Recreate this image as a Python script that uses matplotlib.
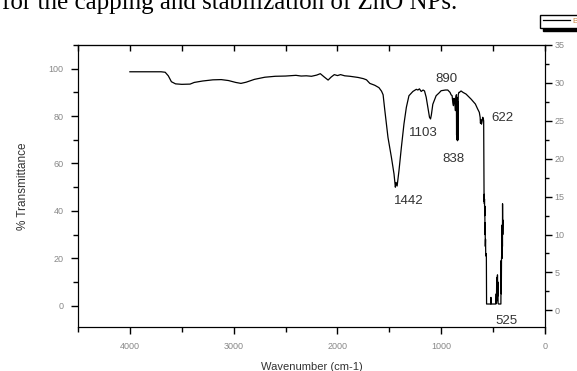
import matplotlib
matplotlib.use("Agg")
import matplotlib.pyplot as plt
from matplotlib.ticker import MultipleLocator

# FTIR spectrum
wavenumber = [4000, 3800, 3700, 3660, 3630, 3600, 3560, 3500, 3420, 3380, 3300, 3200,
              3120, 3050, 2980, 2930, 2880, 2800, 2700, 2600, 2500, 2400, 2350, 2300,
              2250, 2200, 2165, 2130, 2090, 2060, 2030, 2000, 1970, 1930, 1880, 1800,
              1750, 1720, 1688, 1640, 1600, 1575, 1560, 1545, 1513, 1480, 1455, 1442,
              1435, 1425, 1407, 1384, 1359, 1336, 1311, 1273, 1240, 1225, 1210, 1193,
              1175, 1161, 1145, 1130, 1113, 1103, 1095, 1081, 1049, 1020, 1001, 960,
              937, 915, 905, 895, 888, 882, 877, 870, 863, 858, 854, 852, 850, 848,
              846, 843, 841, 839, 836, 830, 825, 809, 790, 761, 713, 671, 649, 633,
              625, 622, 617, 612, 607, 600, 595, 591, 589, 588, 587, 586, 584, 583,
              581, 580, 578, 577, 575, 573, 571, 568, 565, 563, 540, 523, 521, 519,
              490, 473, 470, 468, 466, 464, 462, 460, 458, 456, 454, 452, 448, 440,
              432, 425, 423, 421, 419, 417, 415, 413, 411, 410, 409, 407, 405]
transmittance = [98.7, 98.7, 98.7, 98.5, 97.0, 94.5, 93.6, 93.4, 93.5, 94.2, 94.8, 95.3,
                 95.4, 95.0, 94.2, 93.8, 94.3, 95.5, 96.4, 96.8, 96.9, 97.2, 96.9, 97.0,
                 96.8, 97.3, 97.9, 96.6, 95.2, 96.5, 97.5, 97.1, 97.5, 97.0, 96.8, 96.3,
                 95.8, 95.3, 93.8, 93.0, 92.0, 90.5, 89.0, 83.0, 71.0, 62.6, 55.6, 50.0,
                 52.0, 50.5, 57.0, 66.8, 76.7, 83.7, 88.6, 90.4, 91.3, 91.0, 91.5, 90.4,
                 91.0, 90.6, 88.0, 84.0, 79.5, 78.8, 80.5, 85.0, 88.6, 89.8, 90.7, 91.0,
                 91.0, 90.0, 89.0, 88.6, 85.5, 84.4, 87.5, 86.0, 82.3, 88.0, 89.0, 72.0,
                 88.0, 70.0, 87.0, 69.6, 86.0, 70.0, 89.0, 90.0, 90.0, 90.6, 90.0, 89.3,
                 87.2, 85.1, 83.0, 81.6, 79.5, 77.0, 78.5, 76.6, 77.5, 79.5, 79.0, 78.0,
                 60.0, 48.0, 44.0, 47.0, 43.0, 45.0, 38.0, 42.0, 30.0, 35.0, 25.0, 28.0,
                 21.0, 22.0, 21.0, 0.7, 0.7, 0.7, 3.5, 0.7, 0.7, 0.7, 5.0, 1.0, 9.0, 2.0,
                 12.0, 3.0, 13.0, 4.0, 10.0, 1.0, 0.7, 0.7, 0.7, 0.7, 19.0, 5.0, 20.0,
                 22.0, 34.0, 20.0, 33.0, 25.0, 43.0, 30.0, 36.0]

peak_labels = ["1442", "1103", "890", "838", "622", "525"]
label_x = [1314, 1172, 950, 882, 412, 369]
label_y = [44.3, 73.0, 95.8, 62.0, 79.2, -6.3]

fig = plt.figure(figsize=(5.77, 3.71), dpi=100)
ax = fig.add_axes([78 / 577, 44 / 371, 467 / 577, 282 / 371])

ax.plot(wavenumber, transmittance, color="black", lw=0.9, label="B")

for t, x, y in zip(peak_labels, label_x, label_y):
    ax.text(x, y, t, ha="center", va="center", fontsize=9.5,
            family="Liberation Sans", color="#333333")

ax.set_xlim(4500, 0)
ax.set_ylim(-9, 110)
ax.xaxis.set_major_locator(MultipleLocator(1000))
ax.xaxis.set_minor_locator(MultipleLocator(500))
ax.yaxis.set_major_locator(MultipleLocator(20))
ax.yaxis.set_minor_locator(MultipleLocator(10))

ax.tick_params(axis="both", which="both", direction="out", labelsize=6.5,
               labelcolor="#888888", width=1)
ax.tick_params(which="major", length=5)
ax.tick_params(which="minor", length=3.5)
ax.tick_params(axis="x", pad=6)
ax.tick_params(axis="y", pad=5.5)
for lab in ax.get_xticklabels() + ax.get_yticklabels():
    lab.set_family("Liberation Sans")

# ticks on top edge, pointing in
sec = ax.secondary_xaxis("top")
sec.xaxis.set_major_locator(MultipleLocator(1000))
sec.xaxis.set_minor_locator(MultipleLocator(500))
sec.tick_params(which="both", direction="in", length=4, width=1, labeltop=False)

# right-hand axis
ax2 = ax.twinx()
ax2.set_ylim(-2.2, 35)
ax2.yaxis.set_major_locator(MultipleLocator(5))
ax2.yaxis.set_minor_locator(MultipleLocator(2.5))
ax2.tick_params(which="both", direction="out", labelsize=6.5, labelcolor="#888888",
                width=1, pad=2)
ax2.tick_params(which="major", length=5)
ax2.tick_params(which="minor", length=3.2)
ax2.spines["right"].set_bounds(-3.0, 35)
for lab in ax2.get_yticklabels():
    lab.set_family("Liberation Sans")

ax.set_xlabel("Wavenumber (cm-1)", fontsize=8, family="Liberation Sans",
              color="#333333", labelpad=8)
ax.set_ylabel("% Transmittance", fontsize=8.5, family="Liberation Sans",
              color="#333333", labelpad=14)

leg = fig.legend(handles=ax.get_lines(), labels=["B"], loc="upper left",
                 bbox_to_anchor=(540 / 577, 1 - 15 / 371), borderaxespad=0,
                 frameon=True, fancybox=False, shadow={"color": "black", "alpha": 1},
                 edgecolor="black", handlelength=3.3, handletextpad=0.3,
                 borderpad=0.3, prop={"family": "Liberation Sans", "size": 6})
leg.get_frame().set_linewidth(1)
for t in leg.get_texts():
    t.set_color("#cc8844")

fig.text(2 / 577, 1 - 9 / 371, "for the capping and stabilization of ZnO NPs.",
         family="Liberation Serif", fontsize=18, va="baseline", ha="left")

fig.savefig("out.png", dpi=100)
